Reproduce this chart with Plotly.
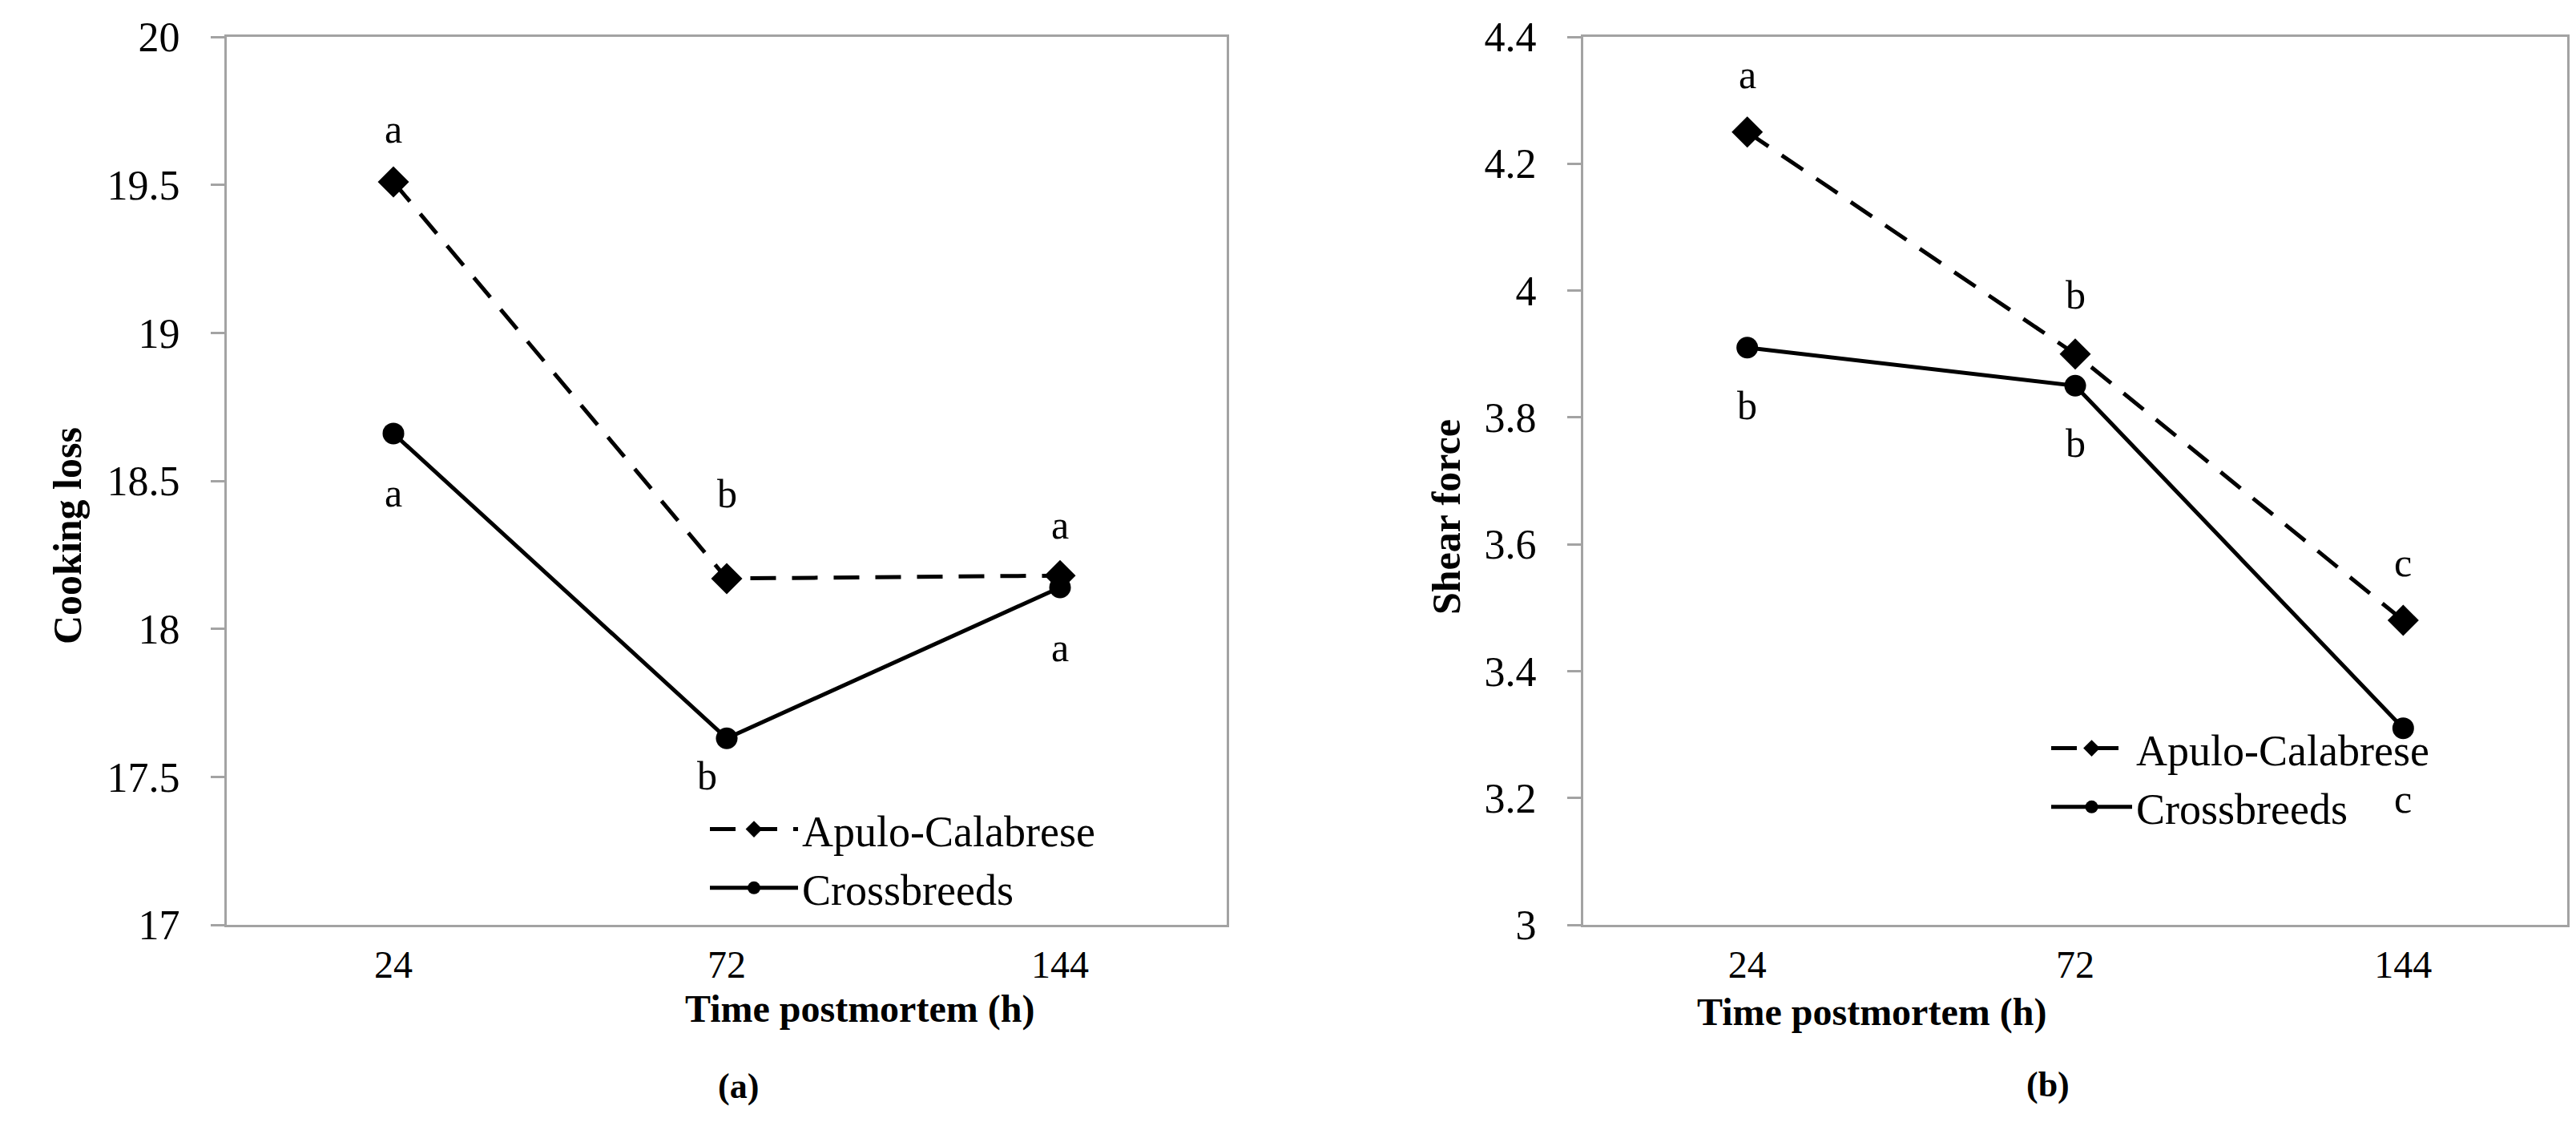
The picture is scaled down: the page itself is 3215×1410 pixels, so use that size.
import plotly.graph_objects as go

# data
times = ["24", "72", "144"]

cooking_apulo = [19.51, 18.17, 18.18]
cooking_cross = [18.66, 17.63, 18.14]
cooking_apulo_letters = ["a", "b", "a"]
cooking_cross_letters = ["a", "b", "a"]

shear_apulo = [4.25, 3.90, 3.48]
shear_cross = [3.91, 3.85, 3.31]
shear_apulo_letters = ["a", "b", "c"]
shear_cross_letters = ["b", "b", "c"]

# pixel offsets of the letters from their point (up is positive)
cooking_apulo_shift = [66, 106, 63]
cooking_cross_shift = [-74, -47, -75]
cooking_cross_xshift = [0, -25, 0]
shear_apulo_shift = [72, 74, 72]
shear_cross_shift = [-72, -72, -88]

W, H = 3215, 1410
FONT = "Liberation Serif"
GRAY = "#a3a3a3"

fig = go.Figure()

def add_series(y, name, xa, ya, dash, symbol, legend, size):
    fig.add_trace(go.Scatter(
        x=times, y=y, name=name, xaxis=xa, yaxis=ya, mode="lines+markers",
        line=dict(color="black", width=5, dash=dash),
        marker=dict(symbol=symbol, size=size, color="black"),
        legend=legend,
    ))

add_series(cooking_apulo, "Apulo-Calabrese", "x", "y", "32px,20px", "diamond", "legend", 30)
add_series(cooking_cross, "Crossbreeds", "x", "y", "solid", "circle", "legend", 27)
add_series(shear_apulo, "Apulo-Calabrese", "x2", "y2", "32px,20px", "diamond", "legend2", 30)
add_series(shear_cross, "Crossbreeds", "x2", "y2", "solid", "circle", "legend2", 27)

# significance letters (x given as category index)
def letters(vals, labs, shifts, xr, yr, xshifts=None):
    for i, (v, t, s) in enumerate(zip(vals, labs, shifts)):
        fig.add_annotation(x=i, y=v, xref=xr, yref=yr, text=t,
                           showarrow=False, yshift=s,
                           xshift=(xshifts[i] if xshifts else 0),
                           font=dict(family=FONT, size=50, color="black"))

letters(cooking_apulo, cooking_apulo_letters, cooking_apulo_shift, "x", "y")
letters(cooking_cross, cooking_cross_letters, cooking_cross_shift, "x", "y", cooking_cross_xshift)
letters(shear_apulo, shear_apulo_letters, shear_apulo_shift, "x2", "y2")
letters(shear_cross, shear_cross_letters, shear_cross_shift, "x2", "y2")

def px(xp):
    return xp / W

def py(yp):
    return 1 - yp / H

tick_font = dict(family=FONT, size=52, color="black")
xaxis_common = dict(type="category", range=[-0.5, 2.5], showgrid=False,
                    showline=True, linecolor=GRAY, linewidth=3, mirror=True,
                    ticks="", tickfont=dict(family=FONT, size=48, color="black"),
                    ticklabelstandoff=5,
                    zeroline=False, fixedrange=True, automargin=False)
yaxis_common = dict(showgrid=False, showline=True, linecolor=GRAY, linewidth=3,
                    mirror=True, ticks="outside", ticklen=17, tickwidth=3,
                    tickcolor=GRAY, tickfont=tick_font, ticklabelstandoff=28,
                    zeroline=False, fixedrange=True, automargin=False)

fig.update_layout(
    width=W, height=H,
    margin=dict(l=0, r=0, t=0, b=0),
    paper_bgcolor="white", plot_bgcolor="white",
    font=dict(family=FONT, color="black"),
    xaxis=dict(domain=[px(275), px(1523)], anchor="y", **xaxis_common),
    yaxis=dict(domain=[py(1146), py(38)], anchor="x", range=[17, 20], dtick=0.5,
               **yaxis_common),
    xaxis2=dict(domain=[px(1968), px(3196)], anchor="y2", **xaxis_common),
    yaxis2=dict(domain=[py(1146), py(38)], anchor="x2", range=[3, 4.4], dtick=0.2,
                **yaxis_common),
    legend=dict(x=px(873), y=py(985), xanchor="left", yanchor="top",
                bgcolor="rgba(0,0,0,0)", font=dict(family=FONT, size=54),
                itemwidth=110, tracegroupgap=0),
    legend2=dict(x=px(2547), y=py(884), xanchor="left", yanchor="top",
                 bgcolor="rgba(0,0,0,0)", font=dict(family=FONT, size=54),
                 itemwidth=101, tracegroupgap=0),
)

# axis titles and panel captions
bold = dict(family=FONT, size=48, color="black")
fig.add_annotation(x=px(845), y=py(1280), xref="paper", yref="paper",
                   text="<b>Time postmortem (h)</b>", showarrow=False, font=bold)
fig.add_annotation(x=px(2548), y=py(1284), xref="paper", yref="paper",
                   text="<b>Time postmortem (h)</b>", showarrow=False, font=bold)
fig.add_annotation(x=px(46), y=py(661), xref="paper", yref="paper", textangle=-90,
                   text="<b>Cooking loss</b>", showarrow=False,
                   font=dict(family=FONT, size=50, color="black"))
fig.add_annotation(x=px(1797), y=py(637), xref="paper", yref="paper", textangle=-90,
                   text="<b>Shear force</b>", showarrow=False,
                   font=dict(family=FONT, size=50, color="black"))
fig.add_annotation(x=px(886), y=py(1374), xref="paper", yref="paper",
                   text="<b>(a)</b>", showarrow=False, font=dict(family=FONT, size=44))
fig.add_annotation(x=px(2577), y=py(1372), xref="paper", yref="paper",
                   text="<b>(b)</b>", showarrow=False, font=dict(family=FONT, size=44))

fig.write_html("out.html")
